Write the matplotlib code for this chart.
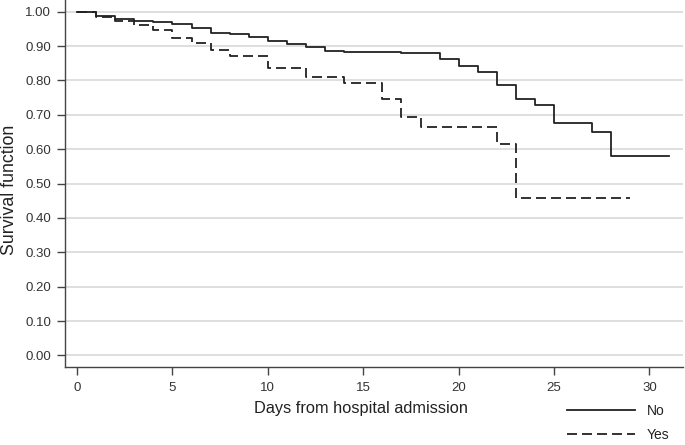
import matplotlib
matplotlib.use("Agg")
import matplotlib.pyplot as plt

plt.rcParams['font.family'] = ['Liberation Sans', 'DejaVu Sans']
plt.rcParams['lines.scale_dashes'] = False

# Kaplan-Meier step data
no_days = [0, 1, 2, 3, 4, 5, 6, 7, 8, 9, 10, 11, 12, 13, 14, 17, 19, 20, 21, 22, 23, 24, 25, 27, 28, 31]
no_surv = [1.000, 0.988, 0.979, 0.974, 0.969, 0.965, 0.952, 0.937, 0.934, 0.925, 0.915, 0.905, 0.898,
           0.886, 0.883, 0.879, 0.861, 0.843, 0.824, 0.787, 0.746, 0.730, 0.675, 0.649, 0.581, 0.581]

yes_days = [0, 1, 2, 3, 4, 5, 6, 7, 8, 10, 12, 14, 16, 17, 18, 22, 23, 29]
yes_surv = [1.000, 0.984, 0.972, 0.960, 0.947, 0.924, 0.910, 0.890, 0.871, 0.835, 0.811, 0.793,
            0.745, 0.694, 0.665, 0.615, 0.459, 0.459]

x_ticks = [0, 5, 10, 15, 20, 25, 30]
y_ticks = [0.0, 0.1, 0.2, 0.3, 0.4, 0.5, 0.6, 0.7, 0.8, 0.9, 1.0]

fig = plt.figure(figsize=(6.85, 4.45), dpi=100)
ax = fig.add_axes([0.0949, 0.175, 0.902, 0.825])

line_col = '#222222'
spine_col = '#444444'

for yv in y_ticks:
    ax.axhline(yv, color='#dcdcdc', lw=1.3, zorder=0)

l1, = ax.step(no_days, no_surv, where='post', color=line_col, lw=1.3, label='No')
l2, = ax.step(yes_days, yes_surv, where='post', color=line_col, lw=1.3, label='Yes')
l2.set_dashes((7.2, 3.6))

ax.set_xlim(-0.63, 31.75)
ax.set_ylim(-0.034, 1.034)
ax.set_xticks(x_ticks)
ax.set_yticks(y_ticks)
ax.set_yticklabels([f"{v:.2f}" for v in y_ticks])

for s in ['top', 'right']:
    ax.spines[s].set_visible(False)
for s in ['left', 'bottom']:
    ax.spines[s].set_color(spine_col)
    ax.spines[s].set_linewidth(1.0)

ax.tick_params(axis='both', colors=spine_col, labelcolor='#333333', labelsize=9.5,
               length=6, width=1.0, direction='out')
ax.tick_params(axis='x', pad=5)
ax.tick_params(axis='y', pad=4)

ax.set_xlabel('Days from hospital admission', fontsize=11.8, color='#222222')
ax.xaxis.set_label_coords(0.479, -0.093)
ax.set_ylabel('Survival function', fontsize=12.8, color='#222222')
ax.yaxis.set_label_coords(-0.076, 0.482)

leg = fig.legend(handles=[l1, l2], labels=['No', 'Yes'], loc='upper left',
                 bbox_to_anchor=(0.828, 0.092), frameon=False, fontsize=10,
                 handlelength=4.9, handletextpad=0.84, labelspacing=0.73,
                 borderaxespad=0, borderpad=0)
for t in leg.get_texts():
    t.set_color('#222222')

fig.savefig('out.png', dpi=100)
